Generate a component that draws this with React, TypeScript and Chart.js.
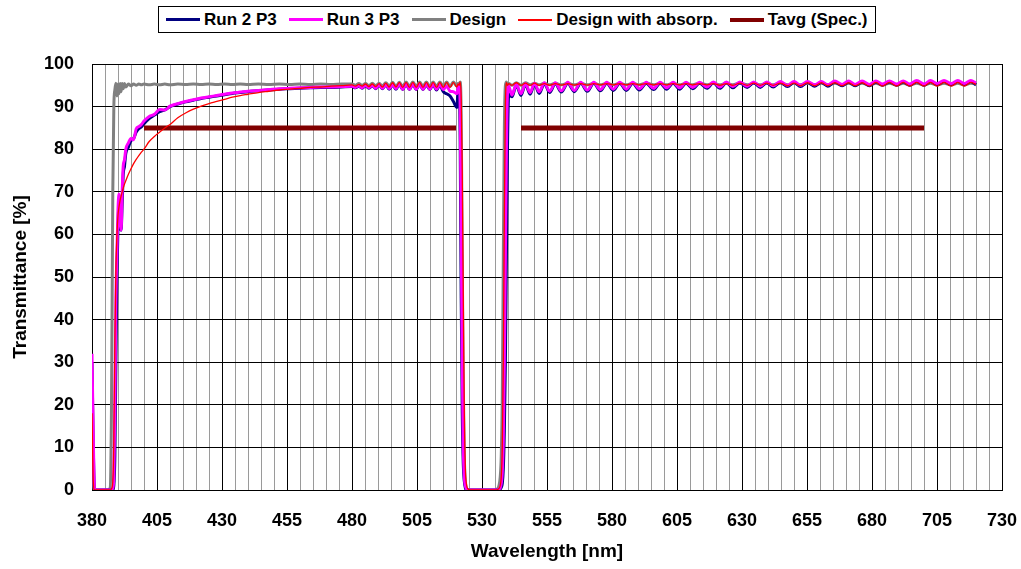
import React, { useEffect, useRef } from 'react';
import { Chart, registerables } from 'chart.js';

Chart.register(...registerables);

const FONT = "'Liberation Sans', Arial, Helvetica, sans-serif";

// ---------- Data (wavelength in nm, transmittance in %) ----------
// Segment 1: blue edge and rise, 380-476 nm
const WL_LEFT = [380, 380.5, 381, 383, 386, 387, 387.5, 388, 388.4, 388.8, 389.2, 389.6, 390, 390.4, 390.8, 391.2, 391.6, 392, 392.5, 393, 394, 395, 396, 397, 398, 399, 400, 402, 404, 406, 408, 410, 413, 416, 419, 422, 425, 428, 431, 434, 437, 440, 444, 448, 452, 456, 460, 464, 468, 472, 476];
const RUN2_LEFT = [30, 10, 0, 0, 0, 0, 0, 0, 1, 8, 30, 50, 62, 67, 62, 61, 67, 74, 76, 79, 80.5, 82, 82.5, 84, 84.8, 85.2, 86, 87.2, 88, 88.8, 89.2, 90, 90.6, 91.1, 91.5, 91.9, 92.2, 92.5, 92.8, 93.1, 93.3, 93.5, 93.7, 93.9, 94.1, 94.2, 94.3, 94.4, 94.5, 94.5, 94.6];
const RUN3_LEFT = [32, 12, 0, 0, 0, 0, 0, 0.5, 3, 20, 45, 56, 66, 69.5, 63, 61, 70, 76, 77.5, 80, 81.5, 82.5, 82.2, 84.8, 85.3, 85.8, 86.6, 87.7, 88.2, 89.3, 89.2, 90.1, 90.7, 91.2, 91.6, 92.0, 92.3, 92.6, 92.9, 93.2, 93.4, 93.6, 93.8, 94.0, 94.2, 94.3, 94.4, 94.5, 94.6, 94.6, 94.7];
const DESIGN_LEFT = [22, 3, 0, 0, 0, 0.5, 20, 70, 90, 94, 95.5, 92.5, 95.3, 93, 95.4, 93.5, 95.4, 94.2, 95.4, 94.6, 95.3, 94.9, 95.3, 95.0, 95.3, 95.1, 95.3, 95.1, 95.3, 95.1, 95.3, 95.1, 95.3, 95.2, 95.3, 95.2, 95.3, 95.2, 95.3, 95.2, 95.3, 95.2, 95.3, 95.2, 95.3, 95.2, 95.3, 95.2, 95.3, 95.2, 95.3];
const ABSORP_LEFT = [18, 2, 0, 0, 0, 0, 0.3, 2, 12, 35, 52, 60, 64.5, 66.5, 68, 69, 70, 70.8, 71.8, 72.6, 74.1, 75.4, 76.6, 77.6, 78.5, 79.3, 80.0, 81.8, 83.0, 84.0, 85.0, 85.8, 87.4, 88.5, 89.4, 90.1, 90.7, 91.2, 91.7, 92.2, 92.6, 92.9, 93.3, 93.6, 93.9, 94.1, 94.3, 94.5, 94.6, 94.8, 94.9];

// Segment 2: ripple before the notch, 480-520.3 nm
const WL_PRE = [480, 481.3, 482.6, 483.9, 485.2, 486.5, 487.8, 489.1, 490.4, 491.7, 493, 494.3, 495.6, 496.9, 498.2, 499.5, 500.8, 502.1, 503.4, 504.7, 506, 507.3, 508.6, 509.9, 511.2, 512.5, 513.8, 515.1, 516.4, 517.7, 519, 520.3];
const RUN2_PRE = [94.7, 94.4, 94.8, 94.3, 94.9, 94.3, 94.9, 94.2, 95.0, 94.2, 95.1, 94.1, 95.1, 94.1, 95.2, 94.0, 95.2, 94.0, 95.2, 94.0, 95.2, 94.0, 95.1, 94.0, 95.1, 93.9, 95.0, 93.5, 93.0, 92.5, 91.2, 89.8];
const RUN3_PRE = [94.8, 94.5, 94.9, 94.4, 95.0, 94.4, 95.0, 94.3, 95.1, 94.3, 95.2, 94.2, 95.2, 94.2, 95.3, 94.1, 95.3, 94.1, 95.3, 94.1, 95.3, 94.1, 95.3, 94.1, 95.3, 94.1, 95.2, 94.0, 94.8, 93.6, 93.5, 93.0];
const DESIGN_PRE = [95.3, 95.0, 95.4, 95.0, 95.4, 94.9, 95.5, 94.9, 95.5, 94.8, 95.6, 94.8, 95.7, 94.7, 95.7, 94.7, 95.8, 94.7, 95.8, 94.7, 95.8, 94.7, 95.8, 94.7, 95.8, 94.7, 95.8, 94.7, 95.8, 94.7, 95.8, 94.8];
const ABSORP_PRE = [95.1, 94.8, 95.2, 94.8, 95.3, 94.7, 95.3, 94.7, 95.4, 94.6, 95.5, 94.6, 95.6, 94.6, 95.7, 94.5, 95.7, 94.5, 95.7, 94.5, 95.7, 94.5, 95.7, 94.5, 95.7, 94.5, 95.7, 94.5, 95.7, 94.5, 95.7, 94.6];

// Segment 3: the notch, 520.8-540.3 nm
const WL_NOTCH = [520.8, 521.2, 521.6, 522, 522.4, 522.8, 523.2, 523.6, 524, 524.5, 525.5, 530, 535, 536, 536.5, 537, 537.4, 537.8, 538.2, 538.6, 539, 539.4, 539.8, 540.3];
const RUN2_NOTCH = [94.0, 94.8, 82, 45, 18, 6, 2, 0.5, 0, 0, 0, 0, 0, 0, 0, 0.2, 0.6, 1.5, 5, 14, 30, 55, 80, 93];
const RUN3_NOTCH = [94.5, 95.2, 90, 60, 30, 10, 3, 1, 0.3, 0, 0, 0, 0, 0, 0.2, 0.5, 1.5, 4, 12, 30, 55, 80, 93, 94.8];
const DESIGN_NOTCH = [95.5, 94.9, 95.8, 88, 55, 25, 8, 2, 0.5, 0, 0, 0, 0, 0.3, 1, 3, 8, 22, 55, 85, 95, 95.8, 95.1, 95.4];
const ABSORP_NOTCH = [95.3, 95.0, 95.8, 92, 75, 45, 18, 5, 1.5, 0.3, 0, 0, 0, 0.1, 0.4, 1, 3, 10, 30, 65, 90, 95.6, 95.0, 95.4];

// Segment 4: ripple after the notch, 541.5-720 nm
const WL_POST = [541.5, 543.2, 545, 546.7, 548.5, 550.2, 552, 554, 556, 558.2,
  560.5, 563, 565.5, 568, 570.5, 573, 575.5, 578, 580.5, 583,
  585.5, 588, 590.5, 593.2, 596, 598.5, 601, 603.5, 606, 608.5,
  611, 613.7, 616.5, 619, 621.5, 624, 626.5, 629.2, 632, 634.5,
  637, 639.5, 642, 644.7, 647.5, 650, 652.5, 655.2, 658, 660.5,
  663, 665.7, 668.5, 671, 673.5, 676.2, 679, 681.5, 684, 686.7,
  689.5, 692, 694.5, 697.2, 700, 702.5, 705, 707.7, 710.5, 713,
  715.5, 718, 720];
const RUN2_POST = [92.3, 95.0, 92.6, 95.2, 92.9, 95.3, 93.1, 95.4, 93.3, 95.4,
  93.4, 95.5, 93.5, 95.5, 93.6, 95.5, 93.7, 95.5, 93.8, 95.5,
  93.8, 95.5, 93.9, 95.5, 94.0, 95.5, 94.1, 95.5, 94.1, 95.5,
  94.2, 95.5, 94.3, 95.6, 94.3, 95.6, 94.4, 95.6, 94.5, 95.6,
  94.5, 95.6, 94.6, 95.7, 94.7, 95.7, 94.7, 95.7, 94.8, 95.7,
  94.8, 95.8, 94.9, 95.8, 94.9, 95.8, 94.9, 95.8, 95.0, 95.8,
  95.0, 95.8, 95.0, 95.9, 95.0, 95.9, 95.1, 95.9, 95.1, 95.9,
  95.1, 95.9, 95.1];
const RUN3_POST = [92.7, 95.2, 93.0, 95.4, 93.3, 95.5, 93.5, 95.6, 93.6, 95.6,
  93.7, 95.7, 93.8, 95.7, 93.9, 95.7, 94.0, 95.7, 94.1, 95.7,
  94.1, 95.7, 94.2, 95.7, 94.3, 95.7, 94.4, 95.7, 94.4, 95.7,
  94.5, 95.7, 94.6, 95.8, 94.6, 95.8, 94.7, 95.8, 94.8, 95.8,
  94.8, 95.8, 94.9, 95.9, 95.0, 95.9, 95.0, 95.9, 95.1, 95.9,
  95.1, 96.0, 95.2, 96.0, 95.2, 96.0, 95.2, 96.0, 95.3, 96.0,
  95.3, 96.0, 95.3, 96.1, 95.3, 96.1, 95.4, 96.1, 95.4, 96.1,
  95.4, 96.1, 95.5];
const DESIGN_POST = [95.0, 95.6, 95.0, 95.6, 95.1, 95.5, 95.1, 95.5, 95.1, 95.5,
  95.1, 95.5, 95.1, 95.5, 95.1, 95.5, 95.1, 95.5, 95.1, 95.5,
  95.1, 95.5, 95.1, 95.5, 95.1, 95.5, 95.1, 95.5, 95.1, 95.5,
  95.1, 95.5, 95.1, 95.5, 95.1, 95.5, 95.1, 95.5, 95.1, 95.5,
  95.1, 95.5, 95.1, 95.5, 95.1, 95.5, 95.1, 95.5, 95.1, 95.5,
  95.1, 95.5, 95.1, 95.5, 95.1, 95.5, 95.1, 95.5, 95.1, 95.5,
  95.1, 95.5, 95.1, 95.5, 95.1, 95.5, 95.1, 95.5, 95.1, 95.5,
  95.1, 95.5, 95.3];
const ABSORP_POST = [95.0, 95.6, 95.0, 95.5, 95.0, 95.5, 95.0, 95.4, 95.0, 95.4,
  95.05, 95.4, 95.05, 95.4, 95.05, 95.4, 95.1, 95.4, 95.1, 95.4,
  95.1, 95.4, 95.1, 95.4, 95.1, 95.4, 95.1, 95.4, 95.1, 95.4,
  95.1, 95.4, 95.1, 95.4, 95.0, 95.4, 95.0, 95.5, 95.0, 95.5,
  95.0, 95.5, 95.0, 95.5, 94.9, 95.5, 94.9, 95.6, 94.9, 95.6,
  94.9, 95.6, 94.9, 95.6, 94.9, 95.6, 94.8, 95.7, 94.8, 95.7,
  94.8, 95.7, 94.8, 95.7, 94.8, 95.7, 94.8, 95.7, 94.8, 95.7,
  94.8, 95.7, 95.2];

// Spec lines (Tavg), null breaks the line between the two bands
const TAVG_WL = [400, 520, 532, 545, 700];
const TAVG_T = [85, 85, null, 85, 85];

const SERIES_NAMES = ['Run 2 P3', 'Run 3 P3', 'Design', 'Design with absorp.', 'Tavg (Spec.)'];
const SERIES_COLORS = ['#000080', '#FF00FF', '#808080', '#FF0000', '#800000'];
const SERIES_WIDTHS = [3, 3, 3, 1.3, 5];
const LEGEND_WIDTHS = [3, 3, 3, 2, 4];
const SERIES_ORDER = [2, 1, 3, 0, 0];

const X_TICK_LABELS = [380, 405, 430, 455, 480, 505, 530, 555, 580, 605, 630, 655, 680, 705, 730];
const Y_TICKS = [0, 10, 20, 30, 40, 50, 60, 70, 80, 90, 100];

const WL_SEGMENTS = [WL_LEFT, WL_PRE, WL_NOTCH, WL_POST];

const CANVAS_W = 1013;
const CANVAS_H = 553;

function joinPoints(wlParts: number[][], tParts: (number | null)[][]) {
  const pts: { x: number; y: number | null }[] = [];
  wlParts.forEach((wl, s) => {
    wl.forEach((x, i) => {
      const y = tParts[s][i];
      pts.push({ x, y: y === undefined ? null : y });
    });
  });
  return pts;
}

function Legend() {
  return (
    <div
      style={{
        position: 'absolute',
        left: 150,
        top: -2,
        width: 718,
        height: 27,
        border: '1px solid #000',
        boxSizing: 'border-box',
        background: '#fff',
        display: 'flex',
        alignItems: 'center',
        paddingLeft: 7,
        fontFamily: FONT,
        fontWeight: 'bold',
        fontSize: 17,
        color: '#000',
        whiteSpace: 'nowrap',
      }}
    >
      {SERIES_NAMES.map((name, i) => (
        <div key={name} style={{ display: 'flex', alignItems: 'center', marginRight: 12 }}>
          <span
            style={{
              display: 'inline-block',
              width: 34,
              height: LEGEND_WIDTHS[i],
              background: SERIES_COLORS[i],
              marginRight: 4,
            }}
          />
          <span>{name}</span>
        </div>
      ))}
    </div>
  );
}

export default function App() {
  const canvasRef = useRef<HTMLCanvasElement | null>(null);

  useEffect(() => {
    document.body.style.margin = '0';
    document.body.style.overflow = 'hidden';
    const canvas = canvasRef.current;
    if (!canvas) return;

    const seriesValues = [
      [RUN2_LEFT, RUN2_PRE, RUN2_NOTCH, RUN2_POST],
      [RUN3_LEFT, RUN3_PRE, RUN3_NOTCH, RUN3_POST],
      [DESIGN_LEFT, DESIGN_PRE, DESIGN_NOTCH, DESIGN_POST],
      [ABSORP_LEFT, ABSORP_PRE, ABSORP_NOTCH, ABSORP_POST],
    ];

    const datasets: any[] = seriesValues.map((vals, i) => ({
      label: SERIES_NAMES[i],
      data: joinPoints(WL_SEGMENTS, vals),
      borderColor: SERIES_COLORS[i],
      backgroundColor: SERIES_COLORS[i],
      borderWidth: SERIES_WIDTHS[i],
      pointRadius: 0,
      cubicInterpolationMode: 'monotone',
      fill: false,
      order: SERIES_ORDER[i],
      borderJoinStyle: 'round',
    }));
    datasets.push({
      label: SERIES_NAMES[4],
      data: joinPoints([TAVG_WL], [TAVG_T]),
      borderColor: SERIES_COLORS[4],
      backgroundColor: SERIES_COLORS[4],
      borderWidth: SERIES_WIDTHS[4],
      pointRadius: 0,
      tension: 0,
      fill: false,
      spanGaps: false,
      order: SERIES_ORDER[4],
    });

    const chart = new Chart(canvas, {
      type: 'line',
      data: { datasets },
      options: {
        animation: false,
        responsive: false,
        maintainAspectRatio: false,
        events: [],
        layout: { padding: { left: 0, right: 19, top: 56, bottom: 0 } },
        plugins: {
          legend: { display: false },
          tooltip: { enabled: false },
          title: { display: false },
        },
        scales: {
          x: {
            type: 'linear',
            min: 380,
            max: 730,
            afterFit: (s: any) => {
              s.height = 71;
              s.paddingLeft = 0;
              s.paddingRight = 0;
            },
            ticks: {
              stepSize: 5,
              autoSkip: false,
              maxRotation: 0,
              minRotation: 0,
              padding: 20,
              color: '#000',
              font: { family: FONT, size: 18, weight: 'bold' },
              callback: (v: any) => (X_TICK_LABELS.includes(Number(v)) ? String(v) : ''),
            },
            grid: {
              drawTicks: false,
              lineWidth: 1,
              color: (ctx: any) =>
                ctx.tick && X_TICK_LABELS.includes(Number(ctx.tick.value)) ? '#000000' : '#9a9a9a',
            },
            border: { color: '#000', width: 1 },
            title: {
              display: true,
              text: 'Wavelength [nm]',
              color: '#000',
              font: { family: FONT, size: 19, weight: 'bold', lineHeight: 1 },
              padding: 0,
            },
          },
          y: {
            type: 'linear',
            min: 0,
            max: 100,
            afterFit: (s: any) => {
              s.width = 84;
              s.paddingTop = 0;
              s.paddingBottom = 0;
            },
            afterBuildTicks: (s: any) => {
              s.ticks = Y_TICKS.map((v) => ({ value: v }));
            },
            ticks: {
              stepSize: 10,
              padding: 18,
              color: '#000',
              font: { family: FONT, size: 18, weight: 'bold' },
            },
            grid: { drawTicks: false, color: '#000000', lineWidth: 1 },
            border: { color: '#000', width: 1 },
            title: {
              display: true,
              text: 'Transmittance [%]',
              color: '#000',
              font: { family: FONT, size: 19, weight: 'bold', lineHeight: 1 },
              padding: { top: 3, bottom: 0 },
            },
          },
        },
      } as any,
    });

    return () => {
      chart.destroy();
    };
  }, []);

  return (
    <div style={{ padding: 8, width: 1021, height: 569, boxSizing: 'border-box' }}>
      <div style={{ position: 'relative', width: CANVAS_W, height: CANVAS_H }}>
        <canvas
          ref={canvasRef}
          width={CANVAS_W}
          height={CANVAS_H}
          style={{ position: 'absolute', left: 0, top: 0, width: CANVAS_W, height: CANVAS_H, display: 'block' }}
        />
        <Legend />
      </div>
    </div>
  );
}
